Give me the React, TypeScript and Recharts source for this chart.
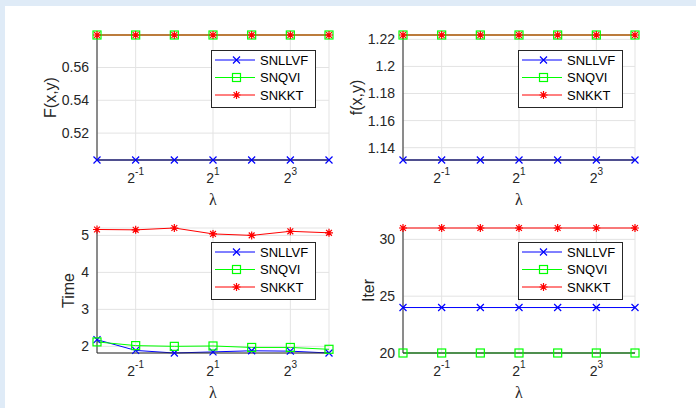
import React from 'react';
import { LineChart, Line, XAxis, YAxis, CartesianGrid, Legend, Label } from 'recharts';

// lambda = 2^k
const lambdaExp = [-2, -1, 0, 1, 2, 3, 4];
const xTicks = [-1, 1, 3];

const seriesNames = ['SNLLVF', 'SNQVI', 'SNKKT'];
const COLORS = ['#0000ff', '#00ff00', '#ff0000'];

const upperF_SNLLVF = [0.5036, 0.5036, 0.5036, 0.5036, 0.5036, 0.5036, 0.5036];
const upperF_SNQVI = [0.5798, 0.5798, 0.5798, 0.5798, 0.5798, 0.5798, 0.5798];
const upperF_SNKKT = [0.5798, 0.5798, 0.5798, 0.5798, 0.5798, 0.5798, 0.5798];

const lowerF_SNLLVF = [1.1309, 1.1309, 1.1309, 1.1309, 1.1309, 1.1309, 1.1309];
const lowerF_SNQVI = [1.2232, 1.2232, 1.2232, 1.2232, 1.2232, 1.2232, 1.2232];
const lowerF_SNKKT = [1.2232, 1.2232, 1.2232, 1.2232, 1.2232, 1.2232, 1.2232];

const time_SNLLVF = [2.18, 1.89, 1.82, 1.85, 1.88, 1.87, 1.82];
const time_SNQVI = [2.12, 2.02, 2.0, 2.01, 1.97, 1.97, 1.92];
const time_SNKKT = [5.16, 5.15, 5.2, 5.04, 5.0, 5.11, 5.07];

const iter_SNLLVF = [24, 24, 24, 24, 24, 24, 24];
const iter_SNQVI = [20, 20, 20, 20, 20, 20, 20];
const iter_SNKKT = [31, 31, 31, 31, 31, 31, 31];

const FONT = '"Liberation Sans", Arial, sans-serif';
const AXIS = '#262626';

const buildRows = (a: number[], b: number[], c: number[]) =>
    lambdaExp.map((k, i) => ({ k, s0: a[i], s1: b[i], s2: c[i] }));

const marker = (kind: number, cx: number, cy: number, key?: any) => {
    const r = 4;
    if (kind === 0) {
        const q = 3.5;
        return (
            <path key={key} d={`M${cx - q},${cy - q}L${cx + q},${cy + q}M${cx - q},${cy + q}L${cx + q},${cy - q}`}
                stroke={COLORS[0]} strokeWidth={1.2} fill="none" />
        );
    }
    if (kind === 1) {
        return <rect key={key} x={cx - r} y={cy - r} width={2 * r} height={2 * r} stroke={COLORS[1]} strokeWidth={1.2} fill="none" />;
    }
    const d = 2.9;
    return (
        <path key={key}
            d={`M${cx - r},${cy}L${cx + r},${cy}M${cx},${cy - r}L${cx},${cy + r}M${cx - d},${cy - d}L${cx + d},${cy + d}M${cx - d},${cy + d}L${cx + d},${cy - d}`}
            stroke={COLORS[2]} strokeWidth={1.2} fill="none" />
    );
};

const dotFor = (kind: number) => (props: any) => {
    const { cx, cy, index } = props;
    if (cx == null || cy == null) return <g key={`e-${index}`} />;
    return marker(kind, cx, cy, `d-${kind}-${index}`);
};

const PowTick = (props: any) => {
    const { x, y, payload } = props;
    return (
        <text x={x} y={y + 23} textAnchor="middle" fill={AXIS} fontSize={14} fontFamily={FONT}>
            2<tspan dy={-8} fontSize={10}>{payload.value}</tspan>
        </text>
    );
};

const renderLegend = () => (
    <svg width={106} height={59} style={{ display: 'block' }}>
        <rect x={0.5} y={0.5} width={104} height={57} fill="#ffffff" stroke={AXIS} strokeWidth={1} />
        {seriesNames.map((name, i) => {
            const y = 10 + i * 17.5;
            return (
                <g key={name}>
                    <line x1={4} x2={44} y1={y} y2={y} stroke={COLORS[i]} strokeWidth={1} />
                    {marker(i, 25.5, y)}
                    <text x={49} y={y + 4.6} fontSize={13} fontFamily={FONT} fill="#000">{name}</text>
                </g>
            );
        })}
    </svg>
);

interface PanelProps {
    left: number;
    top: number;
    height: number;
    marginTop: number;
    marginRight: number;
    yWidth: number;
    xHeight: number;
    rows: any[];
    yDomain: [number, number];
    yTicks: number[];
    yLabel: string;
    yLabelDist: number;
    legendLeft: number;
    legendTop: number;
}

const Panel: React.FC<PanelProps> = (p) => (
    <div style={{ position: 'absolute', left: p.left, top: p.top }}>
        <LineChart width={348} height={p.height} data={p.rows}
            margin={{ top: p.marginTop, right: p.marginRight, bottom: 0, left: 0 }}>
            <CartesianGrid stroke="#e3e3e3" />
            <XAxis dataKey="k" type="number" domain={[-2, 4]} ticks={xTicks} tick={<PowTick />}
                tickLine={false} tickSize={0} tickMargin={0} height={p.xHeight} axisLine={{ stroke: AXIS }}>
                <Label content={(lp: any) => {
                    const vb = lp.viewBox;
                    return (
                        <text x={vb.x + vb.width / 2} y={vb.y + 45} textAnchor="middle" fontSize={16}
                            fontFamily='"Liberation Serif", serif' fill={AXIS}>λ</text>
                    );
                }} />
            </XAxis>
            <XAxis xAxisId="top" orientation="top" dataKey="k" type="number" domain={[-2, 4]} ticks={xTicks}
                tick={false} tickLine={false} height={0} axisLine={{ stroke: AXIS }} />
            <YAxis type="number" domain={p.yDomain} ticks={p.yTicks} width={p.yWidth} tickLine={false} tickSize={0}
                tickMargin={8} tick={{ fill: AXIS, fontSize: 14, fontFamily: FONT }} axisLine={{ stroke: AXIS }}>
                <Label content={(lp: any) => {
                    const vb = lp.viewBox;
                    const cx = vb.x + vb.width - p.yLabelDist;
                    const cy = vb.y + vb.height / 2;
                    return (
                        <text x={cx} y={cy} transform={`rotate(-90 ${cx} ${cy})`} textAnchor="middle"
                            dominantBaseline="central" fontSize={16} fontFamily={FONT} fill={AXIS}>{p.yLabel}</text>
                    );
                }} />
            </YAxis>
            <YAxis yAxisId="right" orientation="right" type="number" domain={p.yDomain} ticks={p.yTicks} width={0}
                tick={false} tickLine={false} axisLine={{ stroke: AXIS }} />
            <Legend layout="vertical" align="center" verticalAlign="middle" content={renderLegend}
                wrapperStyle={{ left: p.legendLeft, top: p.legendTop, width: 106, height: 59 }} />
            {[0, 1, 2].map((i) => (
                <Line key={i} dataKey={`s${i}`} name={seriesNames[i]} stroke={COLORS[i]} strokeWidth={1}
                    dot={dotFor(i)} activeDot={false} isAnimationActive={false} />
            ))}
        </LineChart>
    </div>
);

export default function App() {
    return (
        <div style={{ position: 'absolute', left: 0, top: 0, width: 696, height: 408, background: '#dfebf7' }}>
            <div style={{ position: 'absolute', left: 5, top: 6, width: 691, height: 402, background: '#ffffff' }} />
            <Panel left={0} top={0} height={210} marginTop={35} marginRight={19} yWidth={97} xHeight={50}
                rows={buildRows(upperF_SNLLVF, upperF_SNQVI, upperF_SNKKT)} yDomain={[0.5036, 0.5798]}
                yTicks={[0.52, 0.54, 0.56]} yLabel="F(x,y)" yLabelDist={47} legendLeft={211} legendTop={50} />
            <Panel left={348} top={0} height={210} marginTop={35} marginRight={61} yWidth={55} xHeight={50}
                rows={buildRows(lowerF_SNLLVF, lowerF_SNQVI, lowerF_SNKKT)} yDomain={[1.1309, 1.2232]}
                yTicks={[1.14, 1.16, 1.18, 1.2, 1.22]} yLabel="f(x,y)" yLabelDist={47} legendLeft={170} legendTop={50} />
            <Panel left={0} top={205} height={203} marginTop={23} marginRight={19} yWidth={97} xHeight={55}
                rows={buildRows(time_SNLLVF, time_SNQVI, time_SNKKT)} yDomain={[1.82, 5.2]}
                yTicks={[2, 3, 4, 5]} yLabel="Time" yLabelDist={29} legendLeft={211} legendTop={37} />
            <Panel left={348} top={205} height={203} marginTop={23} marginRight={61} yWidth={55} xHeight={55}
                rows={buildRows(iter_SNLLVF, iter_SNQVI, iter_SNKKT)} yDomain={[20, 31]}
                yTicks={[20, 25, 30]} yLabel="Iter" yLabelDist={35} legendLeft={170} legendTop={37} />
        </div>
    );
}
